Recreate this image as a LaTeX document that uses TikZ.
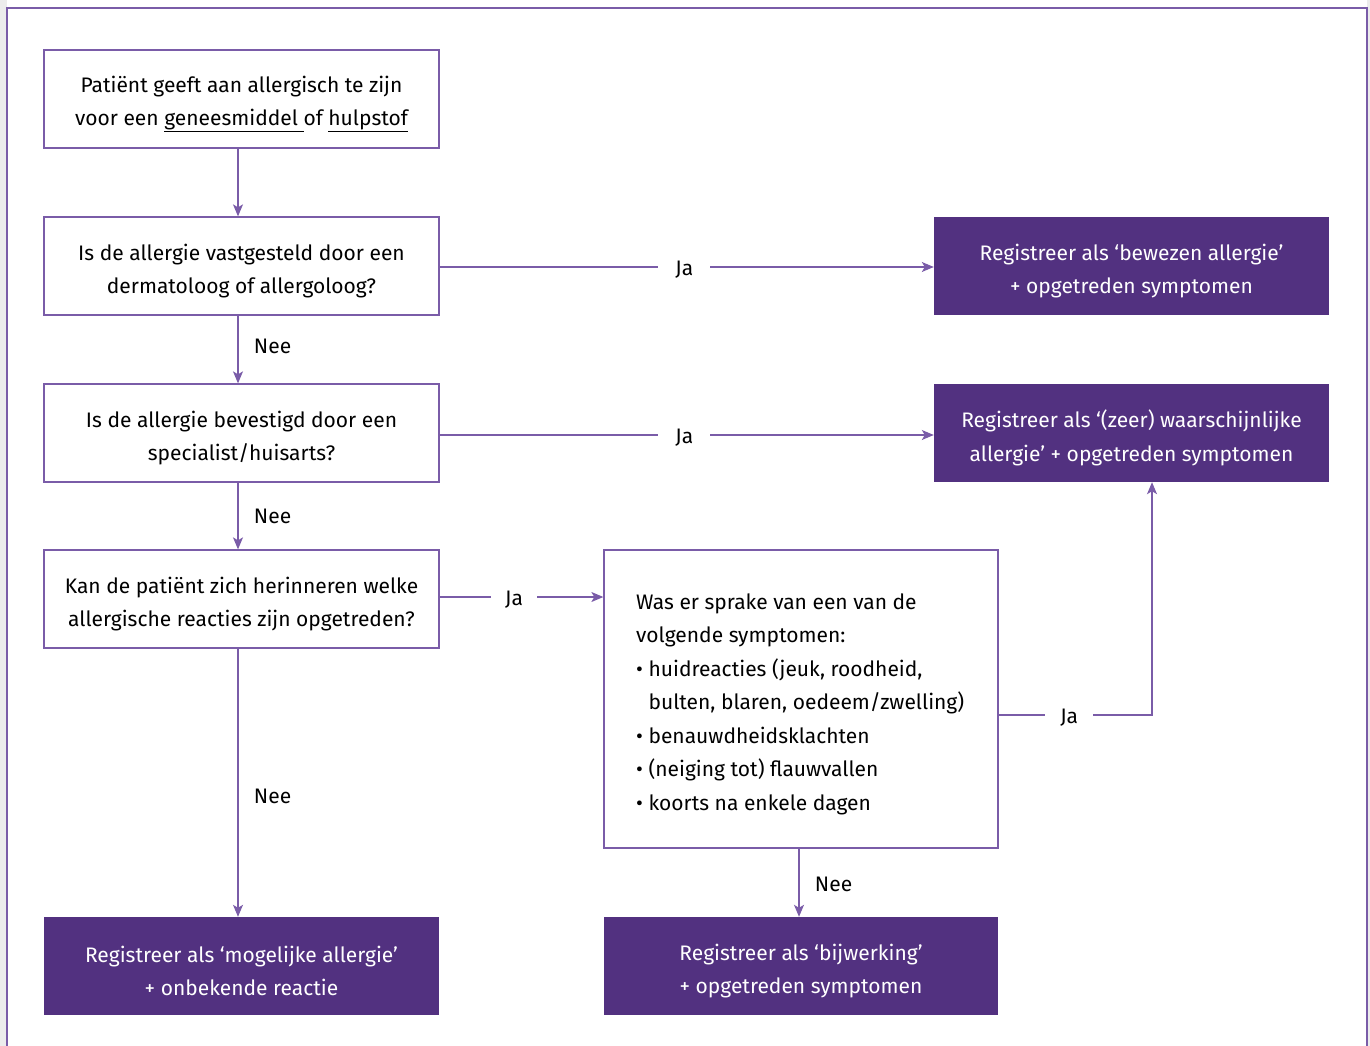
\documentclass[tikz,border=0pt]{standalone}
\usepackage{fontspec}
\setmainfont{Fira Sans}
\usetikzlibrary{arrows.meta,positioning}
\definecolor{lc}{RGB}{122,92,168}
\definecolor{pc}{RGB}{82,49,128}
\definecolor{bg}{RGB}{236,236,236}
\begin{document}
\begin{tikzpicture}[x=1pt,y=-1pt,
  txt/.style={font=\fontsize{21}{33.5}\selectfont},
  wbox/.style={draw=lc,line width=1.3pt,fill=white,minimum width=395pt,minimum height=98pt,inner sep=0pt},
  pbox/.style={fill=pc,minimum width=395pt,minimum height=98pt,inner sep=0pt},
  wtxt/.style={txt,align=center,inner sep=0pt,text=black},
  ptxt/.style={txt,align=center,inner sep=0pt,text=white},
  conn/.style={draw=lc,line width=1.3pt},
  arr/.style={conn,-{Stealth[length=12pt,width=10pt,inset=3pt]}},
  lab/.style={txt,fill=white,inner xsep=17pt,inner ysep=2pt,text=black,yshift=-3pt}
]
\useasboundingbox (0,0) rectangle (1370,1046);
\fill[bg] (0,0) rectangle (7,1046);
\fill[bg] (1367,0) rectangle (1370,1046);
\draw[lc,line width=1.3pt] (7,1046) -- (7,8) -- (1367,8) -- (1367,1046);

\node[wbox] (b1) at (241.5,99) {};
\node[wtxt] (t1) at ([yshift=-5pt]b1.center) {Patiënt geeft aan allergisch te zijn\\voor een \underline{geneesmiddel\ }of \underline{hulpstof}};
\node[wbox] (b2) at (241.5,266) {};
\node[wtxt] (t2) at ([yshift=-5pt]b2.center) {Is de allergie vastgesteld door een\\dermatoloog of allergoloog?};
\node[wbox] (b3) at (241.5,433) {};
\node[wtxt] (t3) at ([yshift=-5pt]b3.center) {Is de allergie bevestigd door een\\specialist/huisarts?};
\node[wbox] (b4) at (241.5,599) {};
\node[wtxt] (t4) at ([yshift=-5pt]b4.center) {Kan de patiënt zich herinneren welke\\allergische reacties zijn opgetreden?};
\node[pbox] (b5) at (241.5,966) {};
\node[ptxt] (t5) at ([yshift=-5pt]b5.center) {Registreer als ‘mogelijke allergie’\\+ onbekende reactie};
\node[pbox] (r1) at (1131.5,266) {};
\node[ptxt] (tr1) at ([yshift=-5pt]r1.center) {Registreer als ‘bewezen allergie’\\+ opgetreden symptomen};
\node[pbox] (r2) at (1131.5,433) {};
\node[ptxt] (tr2) at ([yshift=-5pt]r2.center) {Registreer als ‘(zeer) waarschijnlijke\\allergie’ + opgetreden symptomen};
\node[wbox,minimum width=394pt,minimum height=298pt] (m) at (801,699) {};
\node[txt,align=left,inner sep=0pt,anchor=west] (tm) at (636,704)
 {Was er sprake van een van de\\volgende symptomen:\\• huidreacties (jeuk, roodheid,\\\hphantom{• }bulten, blaren, oedeem/zwelling)\\• benauwdheidsklachten\\• (neiging tot) flauwvallen\\• koorts na enkele dagen};
\node[pbox,minimum width=394pt] (mb) at (801,966) {};
\node[ptxt] (tmb) at ([yshift=-5pt]mb.center) {Registreer als ‘bijwerking’\\+ opgetreden symptomen};

\draw[arr] ([xshift=-3.5pt]b1.south) -- ([xshift=-3.5pt]b2.north);
\draw[arr] ([xshift=-3.5pt]b2.south) -- node[txt,right=12pt,pos=0.45]{Nee} ([xshift=-3.5pt]b3.north);
\draw[arr] ([xshift=-3.5pt]b3.south) -- node[txt,right=12pt,pos=0.5]{Nee} ([xshift=-3.5pt]b4.north);
\draw[arr] ([xshift=-3.5pt]b4.south) -- node[txt,right=12pt,pos=0.55]{Nee} ([xshift=-3.5pt]b5.north);
\draw[arr] ([xshift=-2pt]m.south) -- node[txt,right=12pt,pos=0.52]{Nee} ([xshift=-2pt]mb.north);

\draw[arr] ([yshift=-1pt]b2.east) -- node[lab,pos=0.495]{Ja} ([yshift=-1pt]r1.west);
\draw[arr] ([yshift=-2pt]b3.east) -- node[lab,pos=0.495]{Ja} ([yshift=-2pt]r2.west);
\draw[arr] ([yshift=2pt]b4.east) -- node[lab,pos=0.455,inner xsep=14pt]{Ja} ([yshift=2pt]b4.east -| m.west);
\draw[arr] ([yshift=-16pt]m.east) -- node[lab,pos=0.46,inner xsep=15pt]{Ja} ([yshift=-16pt,xshift=20.5pt]m.east -| r2.south) -- ([xshift=20.5pt]r2.south);
\end{tikzpicture}
\end{document}
